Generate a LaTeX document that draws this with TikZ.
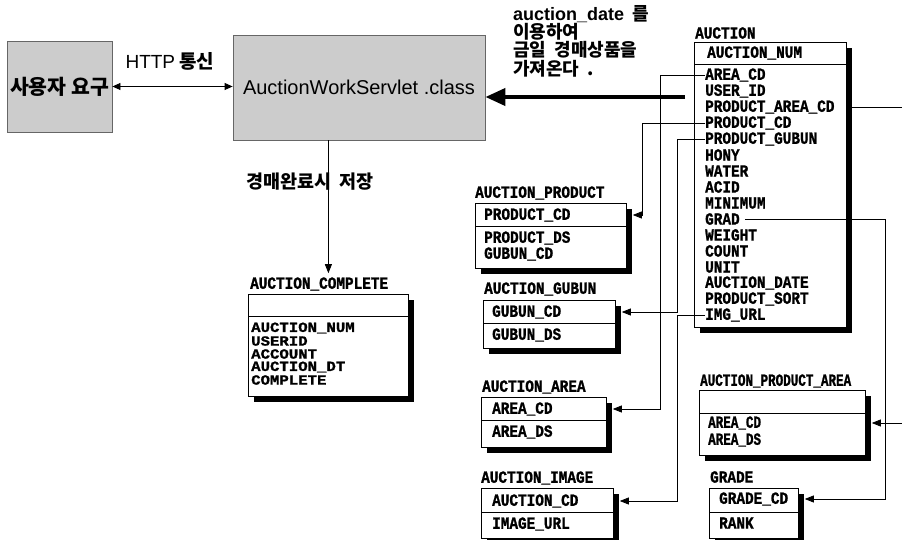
\documentclass[tikz,border=0pt]{standalone}
\usepackage{fontspec}
\newfontfamily\kr{Noto Sans CJK KR}
\newfontfamily\lsans{Liberation Sans}
\newfontfamily\tabfont[FakeStretch=0.845,BoldFeatures={FakeBold=1.2}]{Liberation Mono}
\newfontfamily\tabfontn[FakeStretch=0.74,BoldFeatures={FakeBold=1.2}]{Liberation Mono}
\newfontfamily\tabfontw[FakeStretch=1.12,BoldFeatures={FakeBold=1.2}]{Liberation Mono}
\usetikzlibrary{arrows.meta,shadows,calc}
\tikzset{
  graybox/.style={draw=black!60, line width=0.8pt, fill=black!20, inner sep=0pt},
  tbox/.style={draw=black, line width=0.8pt, fill=white, inner sep=0pt, anchor=north west,
    drop shadow={shadow xshift=6pt, shadow yshift=-6pt, fill=black, opacity=1}},
  sepline/.style={draw=black, line width=0.8pt},
  row/.style={font=\tabfont\bfseries\fontsize{17}{17}\selectfont, anchor=west, inner sep=0pt},
  rown/.style={font=\tabfontn\bfseries\fontsize{17}{17}\selectfont, anchor=west, inner sep=0pt},
  roww/.style={font=\tabfontw\bfseries\fontsize{14}{14}\selectfont, anchor=west, inner sep=0pt},
  ttitle/.style={row},
  conn/.style={draw=black, line width=0.8pt, -{Triangle[length=9pt,width=7pt]}},
  dbl/.style={draw=black, line width=0.8pt, {Triangle[length=8pt,width=7pt]}-{Triangle[length=8pt,width=7pt]}},
  bigarrow/.style={draw=black, line width=4pt, -{Triangle[length=20pt,width=17pt]}},
  krlabel/.style={font=\kr\bfseries\fontsize{18}{18}\selectfont, inner sep=0pt},
}
\begin{document}
\begin{tikzpicture}[x=1pt,y=-1pt]
\useasboundingbox (0,0) rectangle (902,540);
\fill[white] (0,0) rectangle (902,540);
\clip (0,0) rectangle (902,540);

% gray boxes
\node[graybox, minimum width=105pt, minimum height=91pt, font=\kr\bfseries\fontsize{20.5}{20.5}\selectfont] (user) at (59.5,86.5) {사용자 요구};
\node[graybox, minimum width=252pt, minimum height=105pt, font=\lsans\fontsize{20}{20}\selectfont] (servlet) at (359,87.5) {AuctionWorkServlet .class};
\draw[dbl] (user.east) -- (user.east -| servlet.west);
\node[krlabel, font=\kr\bfseries\fontsize{19}{19}\selectfont] (http) at (170,61) {{\lsans\mdseries HTTP} 통신};

% note text
\node[krlabel, anchor=west] (note1) at (513,14) {{\lsans auction\_date} \ 를};
\node[krlabel, anchor=west] (note2) at (513,32) {이용하여};
\node[krlabel, anchor=west] (note3) at (513,50) {금일 \ 경매상품을};
\node[krlabel, anchor=west] (note4) at (513,69) {가져온다 \ .};

% AUCTION table
\node[ttitle] (t-auction) at (695,33) {AUCTION};
\node[tbox, minimum width=152pt, minimum height=285pt] (auction) at (694,42) {};
\draw[sepline] ([yshift=-22pt]auction.north west) -- ([yshift=-22pt]auction.north east);
\node[row] (a-num) at (707,53) {AUCTION\_NUM};
\foreach \t/\n [count=\i from 0] in {AREA\_CD/acd, USER\_ID/uid, PRODUCT\_AREA\_CD/pacd, PRODUCT\_CD/pcd, PRODUCT\_GUBUN/pg, HONY/hony, WATER/water, ACID/acid, MINIMUM/min, GRAD/grad, WEIGHT/weight, COUNT/cnt, UNIT/unit, AUCTION\_DATE/adate, PRODUCT\_SORT/psort, IMG\_URL/img}
  \node[row] (a-\n) at (705,{75+16*\i}) {\t};

% AUCTION_PRODUCT
\node[ttitle] (t-prod) at (475,193) {AUCTION\_PRODUCT};
\node[tbox, minimum width=151pt, minimum height=65pt] (prod) at (475,203) {};
\draw[sepline] ([yshift=-23pt]prod.north west) -- ([yshift=-23pt]prod.north east);
\node[row] (p-cd) at (484,215) {PRODUCT\_CD};
\node[row] (p-ds) at (484,238) {PRODUCT\_DS};
\node[row] (p-gcd) at (484,254) {GUBUN\_CD};

% AUCTION_GUBUN
\node[ttitle] (t-gubun) at (484,289) {AUCTION\_GUBUN};
\node[tbox, minimum width=132pt, minimum height=48pt] (gubun) at (483,300) {};
\draw[sepline] ([yshift=-23pt]gubun.north west) -- ([yshift=-23pt]gubun.north east);
\node[row] (gb-cd) at (492,312) {GUBUN\_CD};
\node[row] (gb-ds) at (492,335) {GUBUN\_DS};

% AUCTION_AREA
\node[ttitle] (t-area) at (482,387) {AUCTION\_AREA};
\node[tbox, minimum width=125pt, minimum height=50pt] (area) at (481,397) {};
\draw[sepline] ([yshift=-23pt]area.north west) -- ([yshift=-23pt]area.north east);
\node[row] (ar-cd) at (492,409) {AREA\_CD};
\node[row] (ar-ds) at (492,432) {AREA\_DS};

% AUCTION_IMAGE
\node[ttitle] (t-image) at (481,478) {AUCTION\_IMAGE};
\node[tbox, minimum width=132pt, minimum height=50pt] (image) at (481,488) {};
\draw[sepline] ([yshift=-24pt]image.north west) -- ([yshift=-24pt]image.north east);
\node[row] (im-cd) at (492,501) {AUCTION\_CD};
\node[row] (im-url) at (492,524) {IMAGE\_URL};

% AUCTION_PRODUCT_AREA
\node[rown] (t-apa) at (700,381) {AUCTION\_PRODUCT\_AREA};
\node[tbox, minimum width=166pt, minimum height=65pt] (apa) at (699,390) {};
\draw[sepline] ([yshift=-23pt]apa.north west) -- ([yshift=-23pt]apa.north east);
\node[rown] (apa-cd) at (708,423) {AREA\_CD};
\node[rown] (apa-ds) at (708,440) {AREA\_DS};

% GRADE
\node[ttitle] (t-grade) at (710,477) {GRADE};
\node[tbox, minimum width=89pt, minimum height=50pt] (grade) at (709,488) {};
\draw[sepline] ([yshift=-24pt]grade.north west) -- ([yshift=-24pt]grade.north east);
\node[row] (g-cd) at (719,499) {GRADE\_CD};
\node[row] (g-rank) at (719,523) {RANK};

% AUCTION_COMPLETE
\node[ttitle] (t-complete) at (250,284) {AUCTION\_COMPLETE};
\node[tbox, minimum width=160pt, minimum height=102pt] (complete) at (248,294) {};
\draw[sepline] ([yshift=-22pt]complete.north west) -- ([yshift=-22pt]complete.north east);
\foreach \t/\n [count=\i from 0] in {AUCTION\_NUM/num, USERID/uid, ACCOUNT/acc, AUCTION\_DT/dt, COMPLETE/comp}
  \node[roww] (c-\n) at (251,{328+13*\i}) {\t};

% servlet -> complete
\node[krlabel, font=\kr\bfseries\fontsize{18.5}{18.5}\selectfont] (done) at (310,182) {경매완료시 \ 저장};
\draw[conn] (servlet.south -| complete.north) -- ([yshift=4pt]t-complete.north -| complete.north);

% auction -> servlet
\coordinate (thick) at (685,97);
\draw[bigarrow] (thick) -- (thick -| servlet.east);

% channels
\coordinate (chP) at (642,0);
\coordinate (chA) at (660,0);
\coordinate (chG) at (677,0);
\coordinate (chR) at (885,0);
\coordinate (chE) at (912,0);

\draw[conn] (a-pcd.west) -- (a-pcd.west -| chP) |- ([xshift=6pt]prod.east |- p-cd);
\draw[conn] (a-acd.west) -- (a-acd.west -| chA) |- ([xshift=6pt]area.east |- ar-cd);
\draw[conn] (a-pg.west) -- (a-pg.west -| chG) |- ([xshift=6pt]gubun.east |- gb-cd);
\draw[conn] (a-img.west) -- (a-img.west -| chG) |- ([xshift=6pt]image.east |- im-cd);
\draw[conn] ([xshift=5pt]a-grad.east) -- (a-grad.east -| chR) |- ([xshift=6pt]grade.east |- g-cd);
\draw[conn] (auction.east |- a-pacd) -- (a-pacd -| chE) |- ([xshift=6pt]apa.east |- apa-cd);
\end{tikzpicture}
\end{document}
